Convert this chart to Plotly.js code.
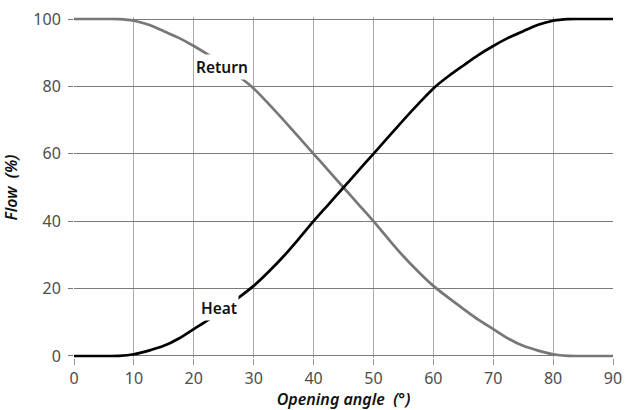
<!DOCTYPE html>
<html>
<head>
<meta charset="utf-8">
<script src="https://cdn.plot.ly/plotly-3.0.1.min.js"></script>
<style>html,body{margin:0;padding:0;background:#fff;}#chart{width:625px;height:410px;}</style>
</head>
<body>
<div id="chart"></div>
<script>
const angle = [0, 2.5, 5, 7.5, 10, 12.5, 15, 17.5, 20, 22.5, 25, 27.5, 30, 32.5, 35, 37.5, 40, 42.5, 45, 47.5, 50, 52.5, 55, 57.5, 60, 62.5, 65, 67.5, 70, 72.5, 75, 77.5, 80, 82.5, 85, 90];
const heatFlow = [0, 0, 0, 0.03, 0.5, 1.6, 3.0, 5.2, 8.0, 10.8, 14.0, 17.3, 20.8, 25.0, 29.6, 34.7, 40, 45, 50, 55, 60, 65, 70, 74.8, 79.4, 83, 86.2, 89.3, 92, 94.4, 96.4, 98.3, 99.5, 99.97, 100, 100];
const returnFlow = [100, 100, 100, 99.97, 99.5, 98.3, 96.4, 94.4, 92.0, 89.3, 86.2, 83, 79.4, 74.8, 70, 65, 60, 55, 50, 45, 40, 34.7, 29.6, 25.0, 20.8, 17.3, 14.0, 10.8, 8, 5.2, 3.0, 1.6, 0.5, 0.03, 0, 0];
const xTicks = [0, 10, 20, 30, 40, 50, 60, 70, 80, 90];
const yTicks = [0, 20, 40, 60, 80, 100];
const labels = [
  {text: 'Return', x: 24.7, y: 85.8},
  {text: 'Heat', x: 24.2, y: 14.2}
];

const font = '"Noto Sans", "Open Sans", sans-serif';
const traces = [
  {x: angle, y: returnFlow, mode: 'lines', line: {color: '#777777', width: 2.7, shape: 'spline', smoothing: 0.8}, hoverinfo: 'skip'},
  {x: angle, y: heatFlow, mode: 'lines', line: {color: '#000000', width: 2.7, shape: 'spline', smoothing: 0.8}, hoverinfo: 'skip'}
];
const layout = {
  width: 625, height: 410,
  margin: {l: 74, r: 12, t: 17, b: 52},
  paper_bgcolor: '#fff', plot_bgcolor: '#fff',
  showlegend: false,
  font: {family: font, color: '#444'},
  xaxis: {
    range: [0, 90], tickvals: xTicks, ticktext: xTicks.map(String),
    showgrid: true, gridcolor: '#ababab', gridwidth: 1,
    zeroline: false, showline: false,
    ticks: 'outside', ticklen: 6, tickcolor: '#999',
    tickfont: {size: 16, color: '#4d4d4d', family: font},
    title: {text: '<i>Opening angle  (°)</i>', font: {size: 16, color: '#111', family: font, weight: 600}, standoff: 3}
  },
  yaxis: {
    range: [-0.6, 100.6], tickvals: yTicks, ticktext: yTicks.map(String),
    showgrid: true, gridcolor: '#7a7a7a', gridwidth: 1,
    zeroline: false, showline: false,
    ticks: 'outside', ticklen: 5, tickcolor: '#777',
    ticklabelstandoff: 4,
    tickfont: {size: 16, color: '#4d4d4d', family: font},
    title: {text: '<i>Flow  (%)</i>', font: {size: 16, color: '#111', family: font, weight: 600}, standoff: 12}
  },
  annotations: labels.map(l => ({
    x: l.x, y: l.y, xref: 'x', yref: 'y', text: l.text, showarrow: false,
    font: {size: 15.5, color: '#111', family: font, weight: 600}, bgcolor: '#fff', borderpad: 1
  }))
};
Plotly.newPlot('chart', traces, layout, {staticPlot: true});
</script>
</body>
</html>
